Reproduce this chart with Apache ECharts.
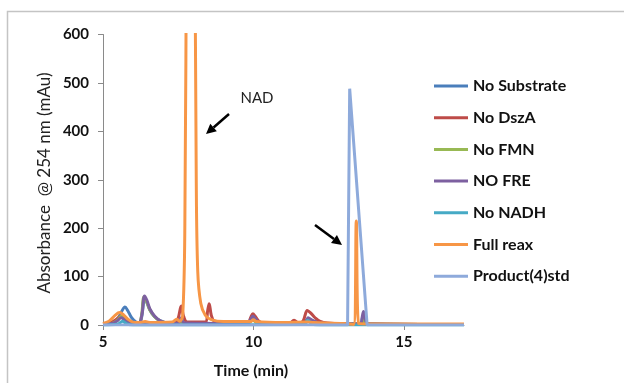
<!DOCTYPE html>
<html>
<head>
<meta charset="utf-8">
<script src="https://cdn.jsdelivr.net/npm/echarts@6/dist/echarts.min.js"></script>
<style>html,body{margin:0;padding:0;background:#fff}#c{width:624px;height:383px}</style>
</head>
<body>
<div id="c"></div>
<script>
// Series names
const seriesNames = ['No Substrate','No DszA','No FMN','NO FRE','No NADH','Full reax','Product(4)std'];
// Axis ticks
const xTicks = [5, 10, 15];
const yTicks = [0, 100, 200, 300, 400, 500, 600];

// [time (min), absorbance (mAu)]
const noSubstrate = [[5,1],[5.3,4],[5.5,14],[5.62,28],[5.73,37],[5.82,30],[5.95,15],[6.1,6],[6.22,5],[6.3,22],[6.38,55],[6.45,48],[6.55,32],[6.7,18],[6.9,9],[7.2,4],[7.6,5],[8,3],[9.8,3],[9.9,10],[9.98,15],[10.08,10],[10.25,3],[11.65,4],[11.82,12],[12,8],[12.3,3],[13.55,2],[13.62,14],[13.66,20],[13.72,8],[13.8,2],[17,1]];
const noDszA = [[5,2],[5.3,6],[5.45,12],[5.6,18],[5.75,13],[5.9,7],[6.1,3],[7.4,4],[7.5,14],[7.6,39],[7.68,18],[7.8,6],[8.4,6],[8.48,30],[8.53,44],[8.6,20],[8.7,7],[8.9,4],[9.8,4],[9.92,17],[9.98,23],[10.06,18],[10.18,8],[10.35,4],[11.2,3],[11.35,10],[11.5,4],[11.65,8],[11.79,30],[11.9,25],[12.05,15],[12.2,8],[12.45,4],[13.55,2],[13.66,10],[13.8,2],[17,1]];
const noFMN = [[5,1],[5.3,3],[5.48,10],[5.6,18],[5.72,12],[5.9,4],[6.1,2],[6.22,4],[6.29,24],[6.36,58],[6.44,50],[6.55,32],[6.7,18],[6.9,8],[7.2,3],[9.8,2],[9.98,10],[10.15,3],[11.65,2],[11.8,8],[12.1,3],[13.6,2],[13.66,15],[13.75,2],[17,1]];
const noFRE = [[5,1],[5.3,3],[5.48,9],[5.6,15],[5.72,11],[5.9,4],[6.1,2],[6.22,4],[6.3,24],[6.38,60],[6.46,51],[6.56,33],[6.72,18],[6.92,8],[7.2,3],[7.5,4],[7.6,15],[7.7,4],[9.8,3],[9.92,13],[9.98,18],[10.08,12],[10.22,4],[11.7,3],[11.82,15],[11.95,10],[12.2,4],[13.55,2],[13.62,18],[13.66,28],[13.72,12],[13.8,2],[17,1]];
const noNADH = [[5,0],[5.5,2],[5.65,8],[5.8,2],[6,0],[11.7,1],[11.8,10],[11.95,2],[12.2,0],[17,0]];
const fullReax = [[5,3],[5.2,8],[5.4,20],[5.55,26],[5.7,20],[5.85,11],[6.0,6],[6.2,5],[6.4,7],[6.6,5],[7.3,6],[7.45,12],[7.55,8],[7.65,20],[7.72,200],[7.78,900],[7.92,2500],[8.05,900],[8.1,300],[8.15,110],[8.25,45],[8.4,20],[8.6,11],[9,7],[9.9,7],[10,11],[10.1,7],[11,5],[11.8,6],[12,5],[13,3],[13.33,1],[13.42,215],[13.5,3],[14,2],[17,2]];
const productStd = [[5,0],[13.13,0],[13.2,488],[13.78,0],[17,0]];

const allData = [noSubstrate, noDszA, noFMN, noFRE, noNADH, fullReax, productStd];
const colors = ['#4A7EBB','#BE4B48','#98B954','#7D60A0','#46AAC5','#F79646','#8EAADB'];

const FONT = 'Lato, "Open Sans", sans-serif';
const chart = echarts.init(document.getElementById('c'), null, {renderer:'canvas'});

function arrow(x1, y1, x2, y2) {
  const ang = Math.atan2(y2 - y1, x2 - x1);
  const L = 10, W = 5;
  const bx = x2 - L * Math.cos(ang), by = y2 - L * Math.sin(ang);
  const px = -Math.sin(ang) * W, py = Math.cos(ang) * W;
  return [
    {type:'line', shape:{x1:x1, y1:y1, x2:bx, y2:by}, style:{stroke:'#000', lineWidth:2.5}},
    {type:'polygon', shape:{points:[[x2,y2],[bx+px,by+py],[bx-px,by-py]]}, style:{fill:'#000'}}
  ];
}

chart.setOption({
  animation: false,
  color: colors,
  grid: {left: 103, right: 160, top: 34.5, bottom: 58},
  xAxis: {
    type: 'value', min: 5, max: 17, interval: 5,
    splitLine: {show: false},
    axisLine: {lineStyle: {color: '#8a8a8a', width: 1}},
    axisTick: {show: true, length: 5, lineStyle: {color: '#8a8a8a'}},
    axisLabel: {color: '#111', fontFamily: FONT, fontWeight: 'bold', fontSize: 15, margin: 10, showMaxLabel: false,
      formatter: v => xTicks.includes(v) ? String(v) : ''}
  },
  yAxis: {
    type: 'value', min: 0, max: 600, interval: 100,
    splitLine: {show: false},
    axisLine: {show: true, lineStyle: {color: '#8a8a8a', width: 1}},
    axisTick: {show: true, length: 5, lineStyle: {color: '#8a8a8a'}},
    axisLabel: {color: '#111', fontFamily: FONT, fontWeight: 'bold', fontSize: 15, margin: 14,
      formatter: v => yTicks.includes(v) ? String(v) : ''}
  },
  legend: {
    orient: 'vertical', left: 429, top: 73,
    itemWidth: 34, itemHeight: 3, itemGap: 15.7, icon: 'rect',
    textStyle: {color: '#111', fontFamily: FONT, fontWeight: 'bold', fontSize: 16, lineHeight: 16},
    data: seriesNames
  },
  series: seriesNames.map((n, i) => ({
    name: n, type: 'line', data: allData[i],
    showSymbol: false, symbol: 'none',
    smooth: i === 6 ? false : 0.35,
    lineStyle: {width: 3, color: colors[i]},
    itemStyle: {color: colors[i]},
    clip: true
  })),
  graphic: [
    {type:'rect', shape:{x:7.5, y:11.5, width:700, height:500}, style:{fill:'none', stroke:'#c4c4c4', lineWidth:1.5}, silent:true},
    {type:'text', x:45, y:183, rotation: Math.PI/2, style:{text:'Absorbance  @ 254 nm (mAu)', fill:'#222', font:'17px ' + FONT, textAlign:'center', textVerticalAlign:'middle'}},
    {type:'text', x:251, y:371, style:{text:'Time (min)', fill:'#111', font:'bold 16px ' + FONT, textAlign:'center', textVerticalAlign:'middle'}},
    {type:'text', x:257, y:98, style:{text:'NAD', fill:'#222', font:'15px ' + FONT, textAlign:'center', textVerticalAlign:'middle'}},
    ...arrow(229, 114, 206, 134),
    ...arrow(315, 225, 342, 245)
  ]
});
</script>
</body>
</html>
